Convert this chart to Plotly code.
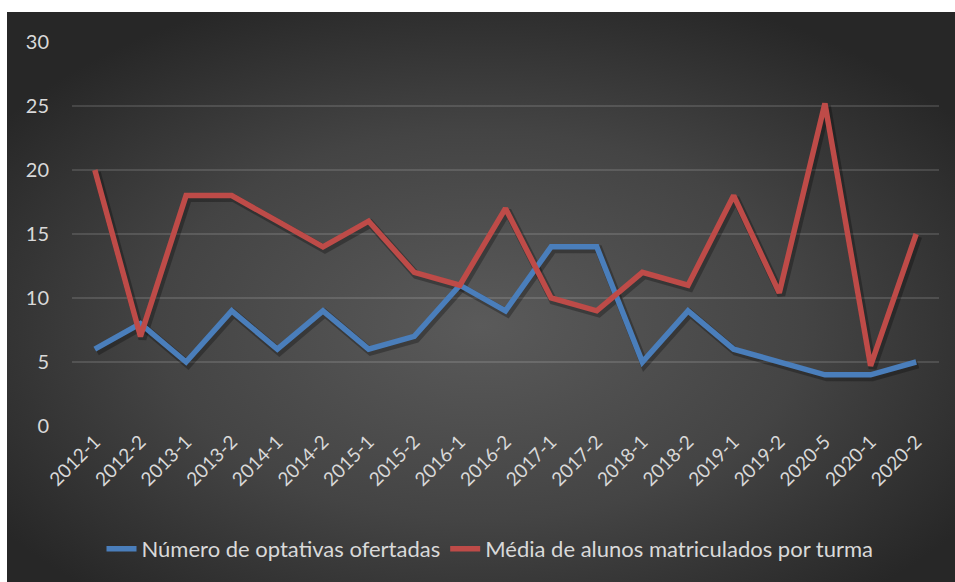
import base64
import plotly.graph_objects as go

# ---- data ----
semestres = ["2012-1", "2012-2", "2013-1", "2013-2", "2014-1", "2014-2", "2015-1", "2015-2",
             "2016-1", "2016-2", "2017-1", "2017-2", "2018-1", "2018-2", "2019-1", "2019-2",
             "2020-5", "2020-1", "2020-2"]
optativas = [6, 8, 5, 9, 6, 9, 6, 7, 11, 9, 14, 14, 5, 9, 6, 5, 4, 4, 5]
media_alunos = [20, 7, 18, 18, 16, 14, 16, 12, 11, 17, 10, 9, 12, 11, 18, 10.4, 25.2, 4.7, 15]
y_ticks = [0, 5, 10, 15, 20, 25, 30]

nome_a = "Número de optativas ofertadas"
nome_b = "Média de alunos matriculados por turma"

BLUE = "#4A7EBB"
RED = "#BE4B48"
TXT = "#D9D9D9"
FONT = "Lato"
EDGE = "#272727"

W, H = 955, 582
L, R, T, B = 72, 16, 42, 156
pw, ph = W - L - R, H - T - B

BG_X0, BG_X1, BG_Y0, BG_Y1 = 7, 955, 12, 582

# radial gradient background (Excel chart area)
svg = '''<svg xmlns="http://www.w3.org/2000/svg" width="948" height="570" viewBox="0 0 948 570" preserveAspectRatio="none">
<defs><radialGradient id="g" cx="0.5" cy="0.55" r="0.62" gradientUnits="objectBoundingBox">
<stop offset="0" stop-color="#5a5a5a"/><stop offset="0.55" stop-color="#444444"/><stop offset="1" stop-color="#272727"/>
</radialGradient></defs><rect width="948" height="570" fill="url(#g)"/></svg>'''
src = "data:image/svg+xml;base64," + base64.b64encode(svg.encode()).decode()


def px_x(px):
    return (px - L) / pw


def px_y(py):
    return (H - B - py) / ph


fig = go.Figure()

# invisible trace so the base axes (ticks + grid) are drawn
fig.add_trace(go.Scatter(x=semestres, y=optativas, mode="lines",
                         line=dict(color="rgba(0,0,0,0)", width=0),
                         showlegend=False, hoverinfo="skip"))

# shadows (same data, on slightly offset hidden axes, drawn first)
dx, dy = 2.0, 2.5
for vals in (optativas, media_alunos):
    fig.add_trace(go.Scatter(x=semestres, y=vals, mode="lines", xaxis="x2", yaxis="y2",
                             line=dict(color="rgba(0,0,0,0.28)", width=8),
                             showlegend=False, hoverinfo="skip"))

fig.add_trace(go.Scatter(x=semestres, y=optativas, mode="lines", name=nome_a,
                         xaxis="x3", yaxis="y3", line=dict(color=BLUE, width=5.5)))
fig.add_trace(go.Scatter(x=semestres, y=media_alunos, mode="lines", name=nome_b,
                         xaxis="x3", yaxis="y3", line=dict(color=RED, width=5.5)))

unit_x = pw / 19
unit_y = ph / 30

white_strips = [
    dict(type="rect", xref="paper", yref="paper", x0=px_x(-5), x1=px_x(W + 5),
         y0=px_y(BG_Y0), y1=px_y(-5), fillcolor="white", line=dict(width=0), layer="below"),
    dict(type="rect", xref="paper", yref="paper", x0=px_x(-5), x1=px_x(BG_X0),
         y0=px_y(H + 5), y1=px_y(-5), fillcolor="white", line=dict(width=0), layer="below"),
]

fig.update_layout(
    width=W, height=H,
    margin=dict(l=L, r=R, t=T, b=B),
    paper_bgcolor=EDGE,
    plot_bgcolor="rgba(0,0,0,0)",
    font=dict(family=FONT, color=TXT, size=20),
    xaxis=dict(type="category", categoryarray=semestres, range=[-0.5, 18.5], tickangle=-45,
               showgrid=False, zeroline=False, showline=False, ticks="",
               tickfont=dict(size=19, color=TXT)),
    yaxis=dict(range=[0, 30], tickvals=y_ticks, showgrid=True,
               gridcolor="rgba(255,255,255,0.13)", gridwidth=1.5, zeroline=False,
               ticks="", tickfont=dict(size=20, color=TXT), ticklabelstandoff=22),
    xaxis2=dict(type="category", categoryarray=semestres, overlaying="x", visible=False,
                range=[-0.5 - dx / unit_x, 18.5 - dx / unit_x]),
    yaxis2=dict(overlaying="y", visible=False,
                range=[0 + dy / unit_y, 30 + dy / unit_y]),
    xaxis3=dict(type="category", categoryarray=semestres, overlaying="x", visible=False,
                range=[-0.5, 18.5]),
    yaxis3=dict(overlaying="y", visible=False, range=[0, 30]),
    legend=dict(orientation="h", x=px_x(490), xanchor="center", y=px_y(549), yanchor="middle",
                font=dict(size=22, color=TXT), bgcolor="rgba(0,0,0,0)", itemwidth=30,
                traceorder="normal"),
    images=[dict(source=src, xref="paper", yref="paper", x=px_x(BG_X0), y=px_y(BG_Y0),
                 sizex=(BG_X1 - BG_X0) / pw, sizey=(BG_Y1 - BG_Y0) / ph, sizing="stretch",
                 xanchor="left", yanchor="top", layer="below")],
    shapes=white_strips,
    showlegend=True,
)

fig.write_html("out.html", config={"displayModeBar": False},
               post_script="document.documentElement.style.overflow='hidden';"
                           "document.body.style.margin='0';document.body.style.overflow='hidden';")
